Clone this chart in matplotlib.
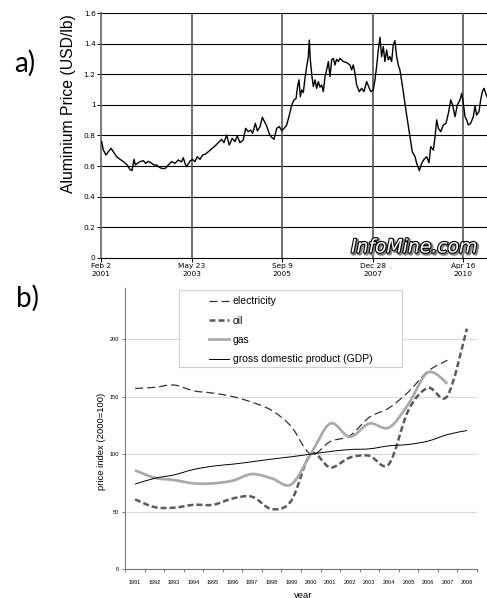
import numpy as np
import pandas as pd
import matplotlib
matplotlib.use("Agg")
import matplotlib.pyplot as plt
import matplotlib.dates as mdates
import matplotlib.patheffects as pe
from matplotlib.path import Path
from matplotlib.patches import PathPatch, Rectangle
from matplotlib.lines import Line2D

plt.rcParams["lines.scale_dashes"] = False

# a) aluminium price (decimal year, USD/lb)
al_year = [
    2001.105, 2001.147, 2001.215, 2001.274, 2001.342, 2001.401, 2001.486, 2001.570,
    2001.655, 2001.740, 2001.824, 2001.875, 2001.926, 2001.960, 2002.010, 2002.078,
    2002.163, 2002.222, 2002.290, 2002.374, 2002.434, 2002.501, 2002.569, 2002.628,
    2002.713, 2002.798, 2002.882, 2002.967, 2003.051, 2003.136, 2003.178, 2003.221,
    2003.263, 2003.348, 2003.415, 2003.475, 2003.534, 2003.602, 2003.669, 2003.745,
    2003.813, 2003.898, 2003.982, 2004.067, 2004.152, 2004.211, 2004.279, 2004.346,
    2004.422, 2004.490, 2004.549, 2004.617, 2004.702, 2004.761, 2004.829, 2004.888,
    2004.939, 2005.006, 2005.057, 2005.125, 2005.184, 2005.252, 2005.294, 2005.362,
    2005.421, 2005.480, 2005.548, 2005.616, 2005.675, 2005.734, 2005.802, 2005.870,
    2005.929, 2005.988, 2006.039, 2006.081, 2006.115, 2006.149, 2006.183, 2006.225,
    2006.267, 2006.310, 2006.352, 2006.377, 2006.403, 2006.445, 2006.479, 2006.521,
    2006.564, 2006.606, 2006.648, 2006.691, 2006.733, 2006.775, 2006.817, 2006.860,
    2006.902, 2006.944, 2006.987, 2007.029, 2007.071, 2007.114, 2007.156, 2007.241,
    2007.325, 2007.410, 2007.452, 2007.494, 2007.537, 2007.579, 2007.647, 2007.706,
    2007.765, 2007.833, 2007.901, 2007.943, 2008.002, 2008.045, 2008.087, 2008.129,
    2008.172, 2008.214, 2008.256, 2008.298, 2008.341, 2008.383, 2008.425, 2008.468,
    2008.510, 2008.552, 2008.595, 2008.637, 2008.679, 2008.764, 2008.849, 2008.933,
    2008.992, 2009.060, 2009.102, 2009.170, 2009.229, 2009.289, 2009.356, 2009.416,
    2009.458, 2009.526, 2009.568, 2009.610, 2009.653, 2009.712, 2009.780, 2009.847,
    2009.906, 2009.966, 2010.016, 2010.076, 2010.135, 2010.203, 2010.245, 2010.287,
    2010.330, 2010.372, 2010.414, 2010.474, 2010.541, 2010.584, 2010.626, 2010.685,
    2010.727, 2010.770, 2010.812, 2010.854, 2010.888,
]
al_price = [
    0.760, 0.705, 0.672, 0.694, 0.716, 0.694, 0.661, 0.644,
    0.629, 0.611, 0.578, 0.570, 0.644, 0.607, 0.618, 0.629,
    0.635, 0.618, 0.631, 0.618, 0.607, 0.607, 0.592, 0.585,
    0.583, 0.607, 0.629, 0.618, 0.640, 0.627, 0.655, 0.618,
    0.596, 0.633, 0.644, 0.629, 0.661, 0.644, 0.672, 0.679,
    0.694, 0.712, 0.731, 0.753, 0.775, 0.753, 0.803, 0.738,
    0.782, 0.760, 0.797, 0.753, 0.771, 0.847, 0.825, 0.836,
    0.814, 0.880, 0.830, 0.858, 0.919, 0.884, 0.862, 0.810,
    0.788, 0.775, 0.847, 0.858, 0.832, 0.847, 0.869, 0.934,
    1.000, 1.033, 1.041, 1.124, 1.164, 1.054, 1.098, 1.081,
    1.174, 1.251, 1.316, 1.425, 1.295, 1.185, 1.120, 1.164,
    1.109, 1.153, 1.116, 1.131, 1.087, 1.185, 1.229, 1.284,
    1.185, 1.295, 1.305, 1.262, 1.299, 1.284, 1.305, 1.284,
    1.277, 1.262, 1.229, 1.262, 1.207, 1.131, 1.087, 1.109,
    1.087, 1.153, 1.109, 1.087, 1.098, 1.164, 1.251, 1.360,
    1.443, 1.316, 1.382, 1.284, 1.360, 1.295, 1.316, 1.284,
    1.393, 1.421, 1.316, 1.262, 1.229, 1.087, 0.934, 0.792,
    0.694, 0.661, 0.618, 0.570, 0.618, 0.644, 0.661, 0.622,
    0.727, 0.705, 0.792, 0.902, 0.847, 0.825, 0.869, 0.880,
    0.945, 1.033, 1.000, 0.923, 1.000, 1.033, 1.076, 1.011,
    0.923, 0.902, 0.869, 0.880, 0.923, 0.993, 0.934, 0.956,
    1.033, 1.087, 1.109, 1.076, 1.054,
]
al_start, al_end = 2001.088, 2010.888
al_tick_dates = ["2001-02-02", "2003-05-23", "2005-09-09", "2007-12-28", "2010-04-16"]
al_tick_labels = ["Feb 2\n2001", "May 23\n2003", "Sep 9\n2005", "Dec 28\n2007", "Apr 16\n2010"]
al_yticks = [0, 0.2, 0.4, 0.6, 0.8, 1, 1.2, 1.4, 1.6]
al_ytick_labels = ["0", "0.2", "0.4", "0.6", "0.8", "1", "1.2", "1.4", "1.6"]

# b) price indices (2000 = 100)
years = list(range(1991, 2009))
electricity = [157, 158, 160, 155, 153, 150, 145, 138, 124, 100, 111, 116, 132, 140, 154, 172, 181.5]
oil = [60.7, 54, 53.5, 56, 56, 61.5, 63, 52.3, 59.5, 100, 88.4, 97, 98.6, 91.3, 138, 157.5, 150.6, 209]
gas = [86, 79.5, 77.5, 74.6, 74.6, 77, 82.7, 79, 73.7, 100, 126.6, 115, 126.6, 123, 143.4, 171, 161.3]
gdp = [74, 79, 82, 86.7, 89.6, 91.3, 93.4, 95.7, 97.7, 100, 102.3, 104, 104.6, 107.2, 108.4, 111.3, 117, 120.5]


def dec_to_num(y):
    y0 = int(y)
    ts = pd.Timestamp(year=y0, month=1, day=1) + pd.Timedelta(days=(y - y0) * 365.25)
    return mdates.date2num(ts)


def smooth_path(x, y):
    # excel style smoothed line through the points (catmull-rom as bezier)
    x = np.asarray(x, float)
    y = np.asarray(y, float)
    px = np.concatenate([[x[0]], x, [x[-1]]])
    py = np.concatenate([[y[0]], y, [y[-1]]])
    verts = [(x[0], y[0])]
    codes = [Path.MOVETO]
    for i in range(len(x) - 1):
        c1 = (x[i] + (px[i + 2] - px[i]) / 6, y[i] + (py[i + 2] - py[i]) / 6)
        c2 = (x[i + 1] - (px[i + 3] - px[i + 1]) / 6, y[i + 1] - (py[i + 3] - py[i + 1]) / 6)
        verts += [c1, c2, (x[i + 1], y[i + 1])]
        codes += [Path.CURVE4] * 3
    return Path(verts, codes)


W, H = 487, 598
fig = plt.figure(figsize=(W / 100, H / 100), dpi=100)

# ---------------- panel a ----------------
ax1 = fig.add_axes([101 / W, 1 - 257.7 / H, (W - 101) / W, 244.4 / H])
xd = [dec_to_num(v) for v in al_year]
ax1.plot(xd, al_price, color="black", lw=1.0, zorder=3)
ax1.set_xlim(dec_to_num(al_start), dec_to_num(al_end))
ax1.set_ylim(0, 1.6)
tick_nums = [mdates.date2num(pd.Timestamp(d)) for d in al_tick_dates]
ax1.set_xticks(tick_nums)
ax1.set_xticklabels(al_tick_labels, fontsize=5.3, family="DejaVu Sans", linespacing=1.35)
ax1.set_yticks(al_yticks)
ax1.set_yticklabels(al_ytick_labels, fontsize=5.3, family="DejaVu Sans")
ax1.tick_params(axis="both", length=3, width=0.7, pad=1, colors="black")
for v in al_yticks[1:]:
    ax1.axhline(v, color="black", lw=0.8, zorder=1)
for t in tick_nums[1:]:
    ax1.axvline(t, color="#555555", lw=1.2, zorder=1)
for s in ["top", "right"]:
    ax1.spines[s].set_visible(False)
ax1.spines["left"].set_color("#666666")
ax1.spines["left"].set_linewidth(1.2)
ax1.spines["bottom"].set_color("black")
ax1.spines["bottom"].set_linewidth(0.8)

fig.text(68 / W, 1 - 104 / H, "Aluminium Price (USD/lb)", rotation=90,
         ha="center", va="center", fontsize=11.3, family="Liberation Sans")
fig.text(351 / W, 1 - 247 / H, "InfoMine.com", fontsize=13.5,
         style="italic", color="white", ha="left", va="center", family="DejaVu Sans",
         path_effects=[pe.Stroke(linewidth=2.4, foreground="#888888", offset=(1, -1)),
                       pe.Stroke(linewidth=1.6, foreground="black"), pe.Normal()])
fig.text(25 / W, 1 - 63 / H, "a)", fontsize=20, family="Lato", ha="center", va="center")

# ---------------- panel b ----------------
ax2 = fig.add_axes([125.3 / W, 1 - 569.3 / H, 351.4 / W, 281 / H])
n = len(years)
ax2.set_xlim(0, n)
ax2.set_ylim(0, 244)

styles = {
    "electricity": dict(color="#333333", lw=0.9, ls=(0, (5.8, 2.9))),
    "oil": dict(color="#5a5a5a", lw=1.8, ls=(0, (4.3, 2.2))),
    "gas": dict(color="#ababab", lw=2.0, ls="-"),
    "gross domestic product (GDP)": dict(color="black", lw=0.7, ls="-"),
}
series = [("electricity", electricity), ("oil", oil), ("gas", gas),
          ("gross domestic product (GDP)", gdp)]
handles = []
for name, vals in series:
    st = styles[name]
    xs = np.arange(len(vals)) + 0.5
    patch = PathPatch(smooth_path(xs, vals), fill=False, edgecolor=st["color"],
                      lw=st["lw"], linestyle=st["ls"], capstyle="butt", zorder=3)
    ax2.add_patch(patch)
    handles.append(Line2D([], [], color=st["color"], lw=st["lw"], ls=st["ls"]))

ax2.set_yticks([0, 50, 100, 150, 200])
ax2.set_yticklabels(["0", "50", "100", "150", "200"], fontsize=4, family="Liberation Sans")
ax2.yaxis.grid(True, color="#d9d9d9", lw=0.8)
ax2.set_axisbelow(True)
ax2.set_xticks(np.arange(0, n + 1))
ax2.set_xticklabels([])
ax2.set_xticks(np.arange(n) + 0.5, minor=True)
ax2.set_xticklabels([str(y) for y in years], minor=True, fontsize=4, family="Liberation Sans")
ax2.tick_params(axis="x", which="major", length=2, width=0.6, color="#666666")
ax2.tick_params(axis="x", which="minor", length=0, pad=8)
ax2.tick_params(axis="y", length=2.5, width=0.6, color="#666666", pad=2)
for s in ["top", "right"]:
    ax2.spines[s].set_visible(False)
for s in ["left", "bottom"]:
    ax2.spines[s].set_color("#777777")
    ax2.spines[s].set_linewidth(0.8)

box = Rectangle((0.153, 0.719), 0.633, 0.275, transform=ax2.transAxes,
                facecolor="white", edgecolor="#d0d0d0", lw=0.8, zorder=5, clip_on=False)
ax2.add_patch(box)
leg = ax2.legend(handles, [s[0] for s in series], loc="upper left",
                 bbox_to_anchor=(0.238, 0.972), frameon=False, borderpad=0,
                 borderaxespad=0, handlelength=1.9, handletextpad=0.4,
                 labelspacing=0.9, prop={"family": "Liberation Sans", "size": 7.5})
leg.set_zorder(6)

fig.text(101.5 / W, 1 - 441.7 / H, "price index (2000=100)", rotation=90,
         ha="center", va="center", fontsize=6.8, family="Liberation Sans")
fig.text(303 / W, 1 - 595 / H, "year", ha="center", va="center",
         fontsize=6.8, family="Liberation Sans")
fig.text(27 / W, 1 - 298 / H, "b)", fontsize=20, family="Lato", ha="center", va="center")

fig.savefig("out.png", dpi=100)
plt.close(fig)
